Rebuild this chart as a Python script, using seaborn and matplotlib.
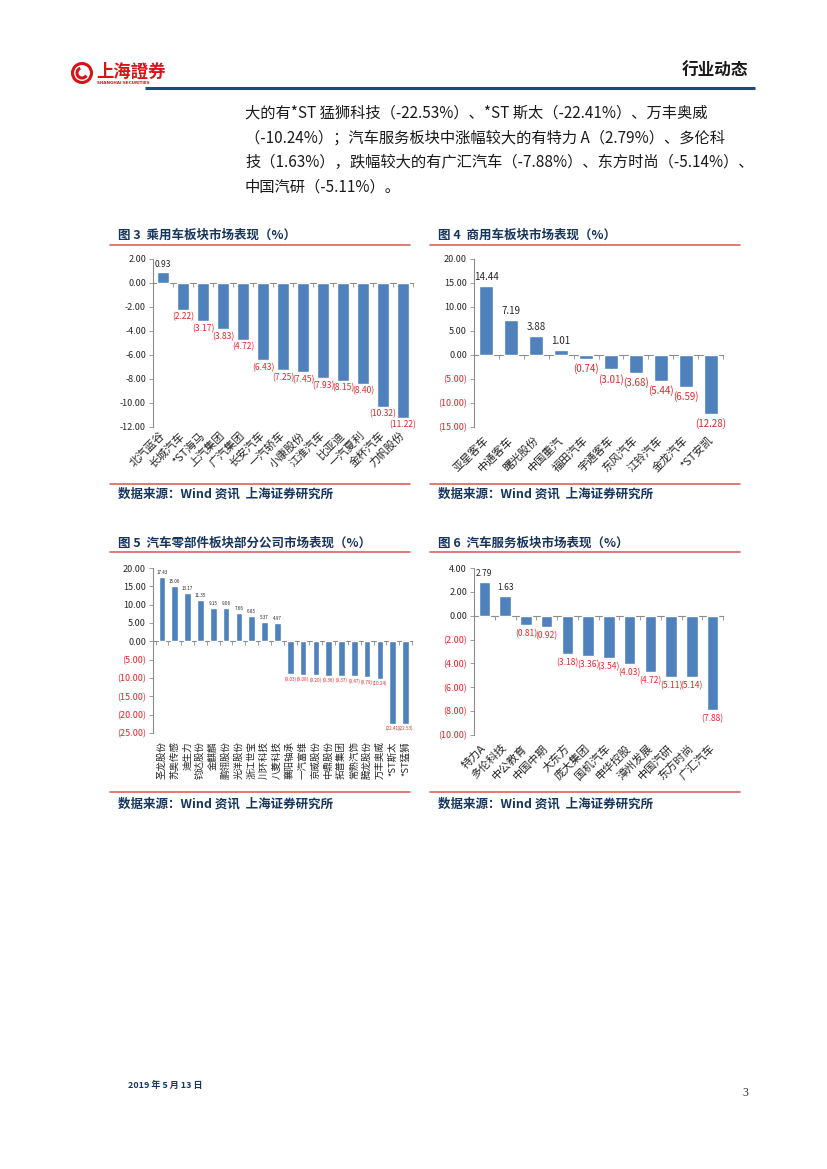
import matplotlib
matplotlib.use('Agg')
import matplotlib.pyplot as plt
import seaborn as sns
import pandas as pd
import numpy as np
from matplotlib.patches import Circle, Arc

# ---------------- data ----------------
c3_names = ['北汽蓝谷', '长城汽车', '*ST海马', '上汽集团', '广汽集团', '长安汽车', '一汽轿车',
            '小康股份', '江淮汽车', '比亚迪', '一汽夏利', '金杯汽车', '力帆股份']
c3_values = [0.93, -2.22, -3.17, -3.83, -4.72, -6.43, -7.25, -7.45, -7.93, -8.15, -8.40, -10.32, -11.22]
c3_yticks = [2, 0, -2, -4, -6, -8, -10, -12]
c3_ytick_labels = ['2.00', '0.00', '-2.00', '-4.00', '-6.00', '-8.00', '-10.00', '-12.00']

c4_names = ['亚星客车', '中通客车', '曙光股份', '中国重汽', '福田汽车', '宇通客车', '东风汽车',
            '江铃汽车', '金龙汽车', '*ST安凯']
c4_values = [14.44, 7.19, 3.88, 1.01, -0.74, -3.01, -3.68, -5.44, -6.59, -12.28]
c4_yticks = [20, 15, 10, 5, 0, -5, -10, -15]
c4_ytick_labels = ['20.00', '15.00', '10.00', '5.00', '0.00', '(5.00)', '(10.00)', '(15.00)']

c5_names = ['圣龙股份', '苏奥传感', '迪生力', '钧达股份', '金麒麟', '鹏翎股份', '光洋股份',
            '浙江世宝', '川环科技', '八菱科技', '襄阳轴承', '一汽富维', '京威股份', '中鼎股份',
            '拓普集团', '常熟汽饰', '腾龙股份', '万丰奥威', '*ST斯太', '*ST猛狮']
c5_values = [17.43, 15.06, 13.17, 11.35, 9.15, 9.06, 7.66, 6.85, 5.37, 4.97,
             -9.03, -9.08, -9.20, -9.36, -9.37, -9.47, -9.79, -10.24, -22.41, -22.53]
c5_yticks = [20, 15, 10, 5, 0, -5, -10, -15, -20, -25]
c5_ytick_labels = ['20.00', '15.00', '10.00', '5.00', '0.00', '(5.00)', '(10.00)', '(15.00)',
                   '(20.00)', '(25.00)']

c6_names = ['特力A', '多伦科技', '中公教育', '中国中期', '大东方', '庞大集团', '国机汽车',
            '申华控股', '漳州发展', '中国汽研', '东方时尚', '广汇汽车']
c6_values = [2.79, 1.63, -0.81, -0.92, -3.18, -3.36, -3.54, -4.03, -4.72, -5.11, -5.14, -7.88]
c6_yticks = [4, 2, 0, -2, -4, -6, -8, -10]
c6_ytick_labels = ['4.00', '2.00', '0.00', '(2.00)', '(4.00)', '(6.00)', '(8.00)', '(10.00)']

chart_titles = ['图 3  乘用车板块市场表现（%）', '图 4  商用车板块市场表现（%）',
                '图 5  汽车零部件板块部分公司市场表现（%）', '图 6  汽车服务板块市场表现（%）']
source_text = '数据来源：Wind 资讯  上海证券研究所'
para_lines = ['大的有*ST 猛狮科技（-22.53%）、*ST 斯太（-22.41%）、万丰奥威',
              '（-10.24%）；汽车服务板块中涨幅较大的有特力 A（2.79%）、多伦科',
              '技（1.63%），跌幅较大的有广汇汽车（-7.88%）、东方时尚（-5.14%）、',
              '中国汽研（-5.11%）。']

# ---------------- style ----------------
sns.set_theme(style='white')
CJK = ['Noto Sans CJK SC', 'DejaVu Sans']
NUM = ['Liberation Sans Narrow', 'Noto Sans CJK SC', 'DejaVu Sans']
plt.rcParams['font.family'] = CJK
plt.rcParams['axes.unicode_minus'] = False

BLUE = '#4F81BD'
RED = '#E3262B'
DARK = '#262626'
GRAY = '#8C8C8C'
NAVY = '#17365D'
RULE = '#D9534F'

W, H = 827, 1169
fig = plt.figure(figsize=(W / 100, H / 100), dpi=100)
fig.patch.set_facecolor('white')

# overlay axes in pixel coordinates for page decoration
pg = fig.add_axes([0, 0, 1, 1])
pg.set_xlim(0, W)
pg.set_ylim(H, 0)
pg.axis('off')
pg.patch.set_alpha(0)


def px_rect(x0, y0, x1, y1):
    return [x0 / W, 1 - y1 / H, (x1 - x0) / W, (y1 - y0) / H]


def fmt(v):
    return f'{v:.2f}' if v >= 0 else f'({-v:.2f})'


# ---------------- header ----------------
pg.add_patch(Circle((82, 73), 9.5, fill=False, ec='#D7141A', lw=2.2))
pg.add_patch(Arc((82, 73), 10, 10, theta1=30, theta2=250, ec='#D7141A', lw=2.2))
pg.text(96, 72, '上海證券', fontsize=12.5, fontweight='bold', color='#D7141A',
        family=['Noto Sans CJK TC', 'DejaVu Sans'], va='center', ha='left')
pg.text(97, 83.5, 'SHANGHAI SECURITIES', fontsize=3, color='#D7141A', fontweight='bold',
        family=['DejaVu Sans'], va='center', ha='left')
pg.text(748, 71, '行业动态', fontsize=12, fontweight='bold', color='#1A1A1A', va='center', ha='right')
pg.plot([145, 755], [88, 88], color='#1F497D', lw=2.2, solid_capstyle='butt')

for i, line in enumerate(para_lines):
    pg.text(245, 113 + i * 24.7, line, fontsize=11, color='#1A1A1A', va='center', ha='left')

# ---------------- chart frames ----------------
frames = [(110, 410, 235, 245, 484, 494), (430, 740, 235, 245, 484, 494),
          (110, 410, 543, 552, 792, 804), (430, 740, 543, 552, 792, 804)]
for (x0, x1, ty, tl, sl, sy), title in zip(frames, chart_titles):
    pg.text(x0 + 8, ty, title, fontsize=9, fontweight='bold', color=NAVY, va='center', ha='left')
    pg.plot([x0, x1], [tl, tl], color=RULE, lw=1.1)
    pg.plot([x0, x1], [sl, sl], color=RULE, lw=1.1)
    pg.text(x0 + 8, sy, source_text, fontsize=9, fontweight='bold', style='italic',
            color=NAVY, va='center', ha='left')

pg.text(128, 1085, '2019 年 5 月 13 日', fontsize=6.5, fontweight='bold', color=NAVY, va='center', ha='left')
pg.text(748, 1093, '3', fontsize=8.5, color='#333333', va='center', ha='right',
        family=['Liberation Serif', 'DejaVu Serif'])


# ---------------- bar charts ----------------
def draw_chart(rect, names, values, yticks, ytl, ylim, width, rot, lab_fs, val_fs, tick_fs,
               neg_red, val_pad, lab_pad, xlim_left=-0.5):
    ax = fig.add_axes(px_rect(*rect))
    ax.patch.set_alpha(0)
    df = pd.DataFrame({'name': names, 'value': values})
    sns.barplot(data=df, x='name', y='value', order=names, color=BLUE, saturation=1,
                width=width, ax=ax, errorbar=None)
    n = len(names)
    ax.set_xlim(xlim_left, n - 0.5)
    ax.set_ylim(*ylim)
    ax.set_yticks(yticks)
    ax.set_yticklabels(ytl, fontsize=tick_fs, family=NUM)
    for t, v in zip(ax.get_yticklabels(), yticks):
        t.set_color(RED if (neg_red and v < 0) else DARK)
    ax.set_xlabel('')
    ax.set_ylabel('')
    for s in ['top', 'right', 'bottom']:
        ax.spines[s].set_visible(False)
    ax.spines['left'].set_color(GRAY)
    ax.spines['left'].set_linewidth(0.8)
    ax.tick_params(axis='y', which='major', left=True, length=3, width=0.6, color=GRAY, pad=2)
    ax.set_xticks(range(n))
    if rot == 90:
        ax.set_xticklabels(names, rotation=90, ha='center', va='top', fontsize=lab_fs)
    else:
        ax.set_xticklabels(names, rotation=rot, ha='right', va='center', rotation_mode='anchor',
                           fontsize=lab_fs)
    ax.tick_params(axis='x', length=0, pad=lab_pad, colors=DARK)
    # zero line with category-boundary ticks
    frac = (0 - ylim[0]) / (ylim[1] - ylim[0])
    sec = ax.secondary_xaxis(frac)
    sec.set_alignment('bottom')
    sec.set_xticks(np.arange(n + 1) - 0.5)
    sec.tick_params(axis='x', length=3, width=0.6, color=GRAY, labelbottom=False, labeltop=False)
    sec.spines['bottom'].set_color(GRAY)
    sec.spines['bottom'].set_linewidth(0.8)
    # value labels
    texts = ax.bar_label(ax.containers[0], labels=[fmt(v) for v in values], padding=val_pad,
                         fontsize=val_fs, family=NUM)
    for t, v in zip(texts, values):
        t.set_color(DARK if v >= 0 else RED)
    return ax


draw_chart((153, 259, 413, 427), c3_names, c3_values, c3_yticks, c3_ytick_labels, (-12, 2),
           0.57, 45, 8, 6.1, 6.5, False, 2, 5)
draw_chart((474, 259, 723, 427), c4_names, c4_values, c4_yticks, c4_ytick_labels, (-15, 20),
           0.56, 45, 8, 7, 6.5, True, 3, 8)
draw_chart((153, 568, 412, 733), c5_names, c5_values, c5_yticks, c5_ytick_labels, (-25, 20),
           0.52, 90, 6.8, 3.3, 6.5, True, 1.5, 6, xlim_left=-0.7)
draw_chart((474, 568, 723, 735), c6_names, c6_values, c6_yticks, c6_ytick_labels, (-10, 4),
           0.56, 45, 8, 6.1, 6.5, True, 3, 8)

fig.savefig('out.png', dpi=100, facecolor='white')
